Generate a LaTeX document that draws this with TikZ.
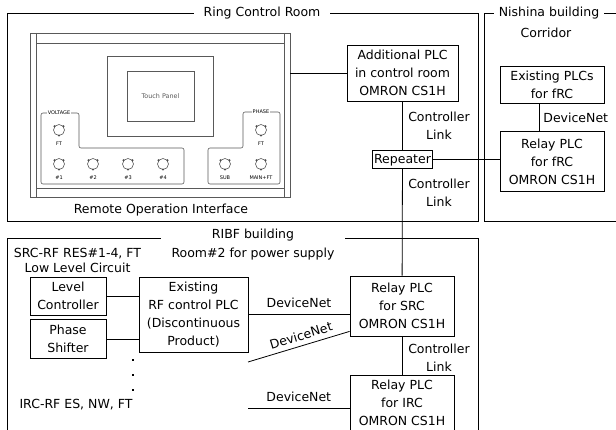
\documentclass[tikz,border=0pt]{standalone}
\usepackage{fontspec}
\setmainfont{DejaVu Sans}
\usetikzlibrary{positioning}
\tikzset{caja/.style={draw, fill=white, align=center, inner sep=2pt, line width=0.8pt}}
\tikzset{titulo/.style={fill=white, inner ysep=1pt}}
\tikzset{enlace/.style={line width=0.8pt}}
\tikzset{etiq/.style={midway, above=4pt, inner sep=2pt, draw=none, fill=none}}
\tikzset{panel/.style={line width=0.6pt, black!65}}
\tikzset{mini/.style={font=\fontsize{5}{6}\selectfont, inner sep=0.5pt}}

\begin{document}
\begin{tikzpicture}[
                x = 1pt, y = -1pt,
                every node/.style={font=\fontsize{12.5}{18}\selectfont}
            ]
                \useasboundingbox (0,0) rectangle (616,430);
                \clip (0,0) rectangle (616,430);

                % rooms
                \draw[enlace] (7,13) rectangle (478,221);
                \draw[enlace] (630,13) -- (484,13) -- (484,221) -- (630,221);
                \draw[enlace] (7,440) -- (7,238) -- (478,238) -- (478,440);
                \node[titulo, inner xsep=10pt] (t1) at (262,13) {Ring Control Room};
                \node[titulo, inner xsep=5pt] (t2) at (549,13) {Nishina building};
                \node (t3) at (546,33) {Corridor};
                \node[titulo, inner xsep=10.5pt, align=center, font=\fontsize{12.5}{19}\selectfont] (t4) at (253,244.5) {RIBF building\\Room\#2 for power supply};

                % remote operation panel
                \draw[panel] (30,33) rectangle (290,197);
                \draw[panel] (36,33) -- (36,197) (284,33) -- (284,197) (36,43) -- (284,43) (36,188) -- (284,188);
                \draw[panel] (107,56) rectangle (213,136);
                \node[draw, panel, minimum width=67, minimum height=50, font=\fontsize{6.4}{8}\selectfont] (tp) at (160.5,96) {Touch Panel};
                \draw[panel, rounded corners=2pt] (41,113) -- (79,113) -- (79,148) -- (184,148) -- (184,184) -- (41,184) -- cycle;
                \draw[panel, rounded corners=2pt] (280,112) -- (243,112) -- (243,148) -- (208,148) -- (208,184) -- (280,184) -- cycle;
                \node[mini, fill=white] (volt) at (59,113) {VOLTAGE};
                \node[mini, fill=white] (fase) at (261,112) {PHASE};
                \foreach \x/\y/\t in {59/130/FT, 59/164/\#1, 93/164/\#2, 128/164/\#3, 163/164/\#4, 261/130/FT, 225/164/SUB, 261/164/MAIN+FT}{
                    \draw[panel] (\x,\y) circle (5.5pt);
                    \fill[black!70] (\x-4.5,\y-3.8) circle (1.1pt) (\x+4.5,\y-3.8) circle (1.1pt) (\x,\y+5.5) circle (1.1pt);
                    \node[mini] (k-\x-\y) at (\x,\y+13.5) {\t};
                }
                \node (roi) at (161,210) {Remote Operation Interface};
                \coordinate (pan) at (290,73);

                % PLCs
                \node[caja, minimum width=111, minimum height=56] (1) at (402.5,73) {Additional PLC\\in control room\\OMRON CS1H};
                \node[caja, minimum width=60, minimum height=18, inner sep=1pt, below=49pt of 1] (2) {Repeater};
                \node[caja, minimum width=104, minimum height=37] (3) at (552,84.5) {Existing PLCs\\for fRC};
                \node[caja, minimum width=104, minimum height=60, below=28pt of 3] (4) {Relay PLC\\for fRC\\OMRON CS1H};
                \node[caja, minimum width=104, minimum height=60] (5) at (402,306) {Relay PLC\\for SRC\\OMRON CS1H};
                \node[caja, minimum width=104, minimum height=55, below=39pt of 5] (6) {Relay PLC\\for IRC\\OMRON CS1H};
                \node[caja, minimum width=76, minimum height=38] (7) at (68,296) {Level\\Controller};
                \node[caja, minimum width=76, minimum height=39, below=4pt of 7] (8) {Phase\\Shifter};
                \node[caja, minimum width=109, minimum height=75] (9) at (193.5,314.5) {Existing\\RF control PLC\\(Discontinuous\\Product)};

                \node[align=center, font=\fontsize{12.5}{15}\selectfont] (src) at (77.5,260.5) {SRC-RF RES\#1-4, FT\\Low Level Circuit};
                \node (irc) at (76,405) {IRC-RF ES, NW, FT};
                \foreach \y in {360,375,390}
                    \fill (131.8,\y-1.2) rectangle (134.2,\y+1.2);

                \node[align=center] (c1) at (439,126) {Controller\\Link};
                \node[align=center] (c2) at (439,193) {Controller\\Link};
                \node[align=center] (c3) at (439,357.5) {Controller\\Link};

                % links
                \coordinate (d2) at (248,362);
                \coordinate (d3) at (248,408);
                \draw[enlace] (pan) -- (1);
                \draw[enlace] (1) -- (2);
                \draw[enlace] (2) -- (5);
                \draw[enlace] (2.east) -- (2.east -| 4.west);
                \draw[enlace] ([xshift=-13pt]3.south) -- ([xshift=-13pt]4.north) node[midway, right, inner sep=4pt] (dn1) {DeviceNet};
                \draw[enlace] (5) -- (6);
                \draw[enlace] (7.east) -- (7.east -| 9.west);
                \draw[enlace] (8.east) -- (8.east -| 9.west);
                \draw[enlace] (9.east) -- (9.east -| 5.west) node[etiq] (dn2) {DeviceNet};
                \draw[enlace] (d2) -- ([yshift=5pt]5.south west) node[etiq, sloped, pos=0.55, above=3pt] (dn3) {DeviceNet};
                \draw[enlace] (d3) -- (d3 -| 6.west) node[etiq] (dn4) {DeviceNet};
            \end{tikzpicture}
\end{document}
